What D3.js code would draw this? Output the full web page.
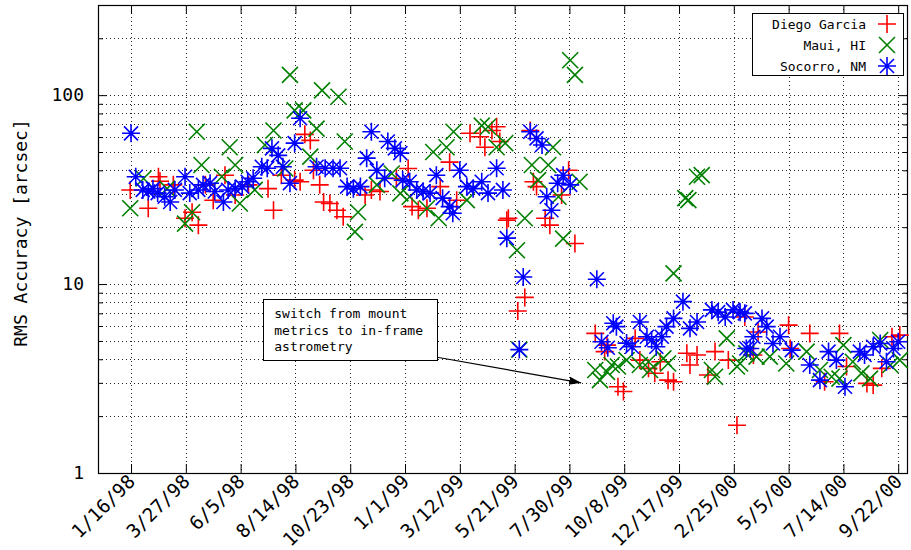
<!DOCTYPE html>
<html>
<head>
<meta charset="utf-8">
<script src="https://cdn.jsdelivr.net/npm/d3@7"></script>
<style>
  body { margin: 0; background: #fff; }
  svg text { font-family: "DejaVu Sans Mono", monospace; }
</style>
</head>
<body>
<div id="chart"></div>
<script>
// observation dates are days counted from 1 Jan 1998
const diegoDays = [14,37,50,52,69,84,93,101,110,120,135,148,165,190,197,207,224,231,237,244,248,256,261,269,278,286,314,322,333,354,369,374,382,393,410,422,431,448,461,467,476,482,486,495,497,509,518,525,529,533,544,550,565,574,582,608,620,623,637,644,659,665,676,684,691,701,708,725,729,738,752,761,778,789,799,810,816,855,857,882,901,920,929,955,963,974,987,997]
const diegoRms = [31.5,25.2,37,35,33.5,22.3,24,20.5,33.5,27.8,37.7,29.6,33.5,32,24.6,37.7,35.5,34.8,62,57.6,40,33.5,27.2,26.7,24.6,22.7,29.6,31.5,30.9,36.2,40.9,25.7,24.6,25.2,32.8,44.2,27.8,62.8,60.2,53,65,68,56.8,21.8,22.3,7.2,8.5,65,34.8,32.8,22.3,20.5,29.6,40,16.4,5.48,4.39,4.75,2.86,2.7,5.16,3.96,3.58,3.37,3.88,3.1,3.04,4.3,3.73,4.21,3.3,4.39,3.96,1.79,6.7,4.21,5.58,6.06,4.56,5.48,3.04,5.48,3.66,2.98,2.92,3.58,5.26,5.37]

const mauiDays = [14,31,61,84,93,99,105,131,141,148,154,173,186,197,212,218,224,235,244,252,259,280,288,301,305,329,348,359,371,393,401,408,418,427,444,463,471,482,493,508,511,518,527,535,548,554,561,567,576,582,588,608,614,623,629,637,648,665,676,678,695,701,708,723,727,738,744,757,761,776,789,793,801,814,831,852,878,895,910,920,925,937,948,959,972,985,997]
const mauiRms = [25.2,36.2,32,20.9,24,64,42.7,37,53,42.7,26.7,31.5,54.5,65,40.9,128,83,83,47.3,66.5,106,98,56.8,18.9,24,33.5,38.5,30.2,29,25.2,50,22.3,53,64,27.8,69,68,53,55.7,15.1,4.5,22.3,42.7,35.5,42.7,53,29,17.4,153,128,34.8,3.51,3.1,3.43,3.73,3.66,3.96,3.73,3.88,3.51,4.04,3.8,11.4,28.5,27.8,37,37.7,3.51,3.23,5.16,3.66,3.8,4.3,4.13,4.13,3.8,4.39,3.51,3.23,3.16,4.75,3.88,3.37,3.16,5.06,3.73,3.96]

const socorroDays = [15,21,30,37,43,49,58,65,71,84,90,101,107,116,122,133,139,148,157,164,171,182,189,195,203,209,218,224,231,252,263,273,282,291,299,308,316,322,329,339,343,352,359,362,371,380,388,397,405,413,422,426,435,444,452,463,471,482,490,495,511,516,525,533,540,546,552,560,567,576,610,616,624,631,635,648,655,665,674,680,686,693,699,708,720,729,738,757,765,774,784,793,799,801,806,810,821,827,835,844,859,882,895,906,916,927,946,952,963,972,980,989,995]
const socorroRms = [62.8,37,31.5,30.9,32,30.3,29,27.2,31.5,37,30.3,31.5,33.5,34.2,30.9,27.2,31.5,32,32.8,34.8,36.3,41.8,41,52.3,48,41.8,34.2,55.7,75.5,41.8,41,41,41,32.8,32,32.8,46.4,64,40,36.3,56.8,52.3,49.3,35.5,34.8,31.5,30.9,30.3,37.7,28.5,25.7,23.7,40,32.8,32,34.8,30.3,41,31.5,17.5,4.5,10.9,64,59,54.5,29,24.6,34.2,37.7,33.5,10.6,4.95,4.6,6.2,5.95,4.87,4.66,6.3,5.26,5.06,4.66,5.26,5.95,6.58,8.07,5.83,6.3,7.3,7.1,6.7,7.3,7.1,7.0,4.56,4.56,5.26,6.58,5.95,4.85,5.26,4.47,3.73,3.1,4.39,3.96,2.86,4.39,4.21,4.66,4.85,3.88,4.56,4.95]

const seriesNames = ["Diego Garcia", "Maui, HI", "Socorro, NM"]
const xTickLabels = ["1/16/98","3/27/98","6/5/98","8/14/98","10/23/98","1/1/99","3/12/99","5/21/99","7/30/99","10/8/99","12/17/99","2/25/00","5/5/00","7/14/00","9/22/00"]
const yMajorTicks = [1, 10, 100]
const yMinorTicks = [2,3,4,5,6,7,8,9,20,30,40,50,60,70,80,90,200]
const noteLines = ["switch from mount", "metrics to in-frame", "astrometry"]

const dayZero = new Date(1998, 0, 1)
const dayToDate = d => new Date(dayZero.getTime() + d * 864e5)

class RmsChart {

    constructor(parentElement){
        this.parentElement = parentElement
        this.series = [
            {name: seriesNames[0], color: "#ff0000", shape: "plus", data: d3.zip(diegoDays, diegoRms)},
            {name: seriesNames[1], color: "#008000", shape: "cross", data: d3.zip(mauiDays, mauiRms)},
            {name: seriesNames[2], color: "#0000ff", shape: "star", data: d3.zip(socorroDays, socorroRms)}
        ]
        this.shapes = {
            plus: "M-9,0H9M0,-9V9",
            cross: "M-8,-8L8,8M-8,8L8,-8",
            star: "M-9,0H9M0,-9V9M-7,-7L7,7M-7,7L7,-7"
        }
        this.initVis()
    }

    initVis(){
        let vis = this

        vis.margin = {top: 5, right: 3, bottom: 77, left: 98}
        vis.width = 911 - vis.margin.left - vis.margin.right
        vis.height = 550 - vis.margin.top - vis.margin.bottom

        vis.root = d3.select("#" + vis.parentElement).append("svg")
            .attr("width", 911)
            .attr("height", 550)
        vis.svg = vis.root.append("g")
            .attr("transform", `translate(${vis.margin.left},${vis.margin.top})`)

        vis.xScale = d3.scaleTime()
            .domain([dayToDate(-27.2), dayToDate(1007.5)])
            .range([0, vis.width])
        vis.yScale = d3.scaleLog()
            .domain([1, 300])
            .range([vis.height, 0])

        vis.updateVis()
    }

    updateVis(){
        let vis = this
        let parse = d3.timeParse("%m/%d/%y")
        let xTicks = xTickLabels.map(parse)

        // dotted grid
        let grid = vis.svg.append("g")
            .attr("stroke", "#222").attr("stroke-width", 1).attr("stroke-dasharray", "1,3")
        grid.selectAll(".gx").data(xTicks).join("line")
            .attr("x1", d => Math.round(vis.xScale(d)) + 0.5).attr("x2", d => Math.round(vis.xScale(d)) + 0.5)
            .attr("y1", 0).attr("y2", vis.height)
        grid.selectAll(".gy").data(yMajorTicks.slice(1).concat(yMinorTicks)).join("line")
            .attr("x1", 0).attr("x2", vis.width)
            .attr("y1", d => Math.round(vis.yScale(d)) + 0.5).attr("y2", d => Math.round(vis.yScale(d)) + 0.5)

        // axes, ticks inward and mirrored
        let xAxis = d3.axisBottom(vis.xScale).tickValues(xTicks).tickSize(-9).tickPadding(8)
            .tickFormat(d3.timeFormat("%-m/%-d/%y"))
        let gx = vis.svg.append("g").attr("transform", `translate(0,${vis.height})`).call(xAxis)
        gx.selectAll("text")
            .attr("font-size", 19).attr("fill", "#000")
            .attr("text-anchor", "end")
            .attr("transform", "translate(0,5) rotate(-45)")
            .attr("dy", "0.35em").attr("y", 0).attr("x", 0)
        vis.svg.append("g").call(d3.axisTop(vis.xScale).tickValues(xTicks).tickSize(-9).tickFormat(""))

        let yAxis = d3.axisLeft(vis.yScale).tickValues(yMajorTicks).tickSize(-9).tickPadding(14)
            .tickFormat(d3.format("d"))
        let gy = vis.svg.append("g").call(yAxis)
        gy.selectAll("text").attr("font-size", 18).attr("fill", "#000")
        vis.svg.append("g").call(d3.axisLeft(vis.yScale).tickValues(yMinorTicks).tickSize(-5).tickFormat(""))
        vis.svg.append("g").attr("transform", `translate(${vis.width},0)`)
            .call(d3.axisRight(vis.yScale).tickValues(yMajorTicks).tickSize(-9).tickFormat(""))
        vis.svg.append("g").attr("transform", `translate(${vis.width},0)`)
            .call(d3.axisRight(vis.yScale).tickValues(yMinorTicks).tickSize(-5).tickFormat(""))
        vis.svg.selectAll(".domain").remove()
        vis.svg.selectAll(".tick line").attr("stroke", "#000")

        vis.svg.append("rect")
            .attr("x", 0.5).attr("y", 0.5)
            .attr("width", vis.width - 1).attr("height", vis.height)
            .attr("fill", "none").attr("stroke", "#000").attr("stroke-width", 1.2)

        vis.root.append("text")
            .attr("transform", `translate(27,${vis.margin.top + vis.yScale(Math.sqrt(300)) - 6}) rotate(-90)`)
            .attr("text-anchor", "middle")
            .attr("font-size", 18)
            .text("RMS Accuracy [arcsec]")

        // points
        vis.series.forEach(s => {
            vis.svg.append("g").selectAll("path").data(s.data).join("path")
                .attr("transform", d => `translate(${vis.xScale(dayToDate(d[0]))},${vis.yScale(d[1])})`)
                .attr("d", vis.shapes[s.shape])
                .attr("fill", "none").attr("stroke", s.color).attr("stroke-width", 1.6)
        })

        // legend
        let lg = vis.root.append("g")
        lg.append("rect").attr("x", 752.5).attr("y", 13.5).attr("width", 151).attr("height", 62)
            .attr("fill", "#fff").attr("stroke", "#000")
        vis.series.forEach((s, i) => {
            let yy = 24 + i * 21
            lg.append("text").attr("x", 866).attr("y", yy).attr("dy", "0.35em")
                .attr("text-anchor", "end").attr("font-size", 13).text(s.name)
            lg.append("path").attr("transform", `translate(887,${yy})`).attr("d", vis.shapes[s.shape])
                .attr("fill", "none").attr("stroke", s.color).attr("stroke-width", 1.6)
        })

        // annotation
        vis.root.append("defs").append("marker")
            .attr("id", "head").attr("viewBox", "0 -5 12 10")
            .attr("refX", 12).attr("refY", 0)
            .attr("markerUnits", "userSpaceOnUse")
            .attr("markerWidth", 12).attr("markerHeight", 10)
            .attr("orient", "auto")
            .append("path").attr("d", "M0,-4L12,0L0,4Z").attr("fill", "#000")

        let note = vis.svg.append("g")
        let nx = vis.xScale(dayToDate(198)), ny = vis.yScale(6.6)
        let nt = note.append("text").attr("font-size", 13)
        noteLines.forEach((t, i) => nt.append("tspan").attr("x", nx).attr("y", ny + i * 16.5).text(t))
        let bb = nt.node().getBBox()
        note.insert("rect", "text")
            .attr("x", Math.round(bb.x - 11) + 0.5).attr("y", Math.round(bb.y - 7) + 0.5)
            .attr("width", Math.round(bb.width + 25)).attr("height", Math.round(bb.height + 13))
            .attr("fill", "#fff").attr("stroke", "#000")
        note.append("line")
            .attr("x1", vis.xScale(dayToDate(406))).attr("y1", vis.yScale(4.1))
            .attr("x2", vis.xScale(dayToDate(590))).attr("y2", vis.yScale(3.0))
            .attr("stroke", "#000").attr("stroke-width", 1.2)
            .attr("marker-end", "url(#head)")
    }
}

new RmsChart("chart")
</script>
</body>
</html>
